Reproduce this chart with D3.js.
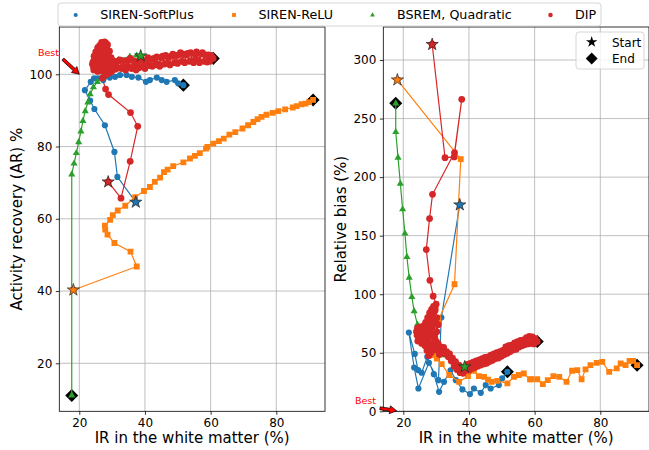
<!DOCTYPE html>
<html>
<head>
<meta charset="utf-8">
<script src="https://cdn.jsdelivr.net/npm/d3@7"></script>
<style type="text/css">
	body { margin: 0; background: #fff; }
	text { font-family: "DejaVu Sans", sans-serif; fill: #000; }
	.axis path { display: none; }
	.axis line { stroke: #000; stroke-width: 0.8; }
	.axis text { font-size: 12px; }
	.grid line { stroke: #b0b0b0; stroke-width: 0.8; }
</style>
</head>
<body>
<script type="text/javascript">
// ---- data ----
var seriesNames = ["SIREN-SoftPlus", "SIREN-ReLU", "BSREM, Quadratic", "DIP"];

var softplusIR = [37.2, 31.6, 30.7, 27.8, 24.6, 23.3, 21.7, 23.5, 24.5, 25.6, 27.3, 29.3, 30.9, 32.4, 34.4, 36.0, 38.0, 40.3, 41.5, 43.6, 45.1, 46.6, 49.1, 50.1, 51.7];
var softplusAR = [64.6, 71.6, 78.5, 85.9, 90.4, 92.7, 95.6, 97.9, 98.9, 98.9, 98.4, 99.1, 99.3, 99.8, 99.8, 99.3, 99.1, 97.9, 98.4, 99.1, 98.4, 97.9, 98.4, 97.5, 97.0];
var softplusBias = [176.3, 80.1, 26.6, 41.4, 19.5, 37.4, 67.3, 49.0, 35.2, 32.9, 46.5, 31.7, 16.6, 25.2, 35.0, 26.6, 18.7, 14.7, 19.5, 15.8, 22.4, 19.5, 22.4, 28.1, 33.7];

var reluIR = [18.2, 37.5, 35.6, 30.7, 28.6, 27.9, 27.8, 29.4, 30.2, 31.7, 34.0, 37.0, 39.7, 41.5, 43.0, 44.6, 45.8, 46.9, 48.6, 51.7, 53.7, 55.2, 56.7, 58.6, 59.0, 60.8, 62.5, 64.0, 65.7, 67.5, 69.7, 71.4, 73.0, 74.3, 75.5, 77.0, 78.9, 80.6, 82.7, 85.0, 86.2, 87.7, 88.9, 90.0, 91.2];
var reluAR = [40.3, 46.8, 50.9, 53.3, 55.6, 57.0, 58.1, 59.7, 61.0, 62.3, 63.6, 66.0, 67.7, 68.8, 70.2, 71.4, 72.9, 73.6, 74.6, 75.6, 76.7, 77.4, 78.2, 79.4, 79.9, 80.8, 81.5, 82.2, 83.3, 84.0, 85.0, 85.9, 86.8, 87.6, 88.2, 88.8, 89.3, 89.8, 90.3, 90.8, 91.2, 91.7, 91.9, 92.3, 92.9];
var reluBias = [283.0, 215.3, 108.5, 77.8, 55.0, 53.0, 51.0, 48.0, 45.0, 40.3, 31.0, 25.2, 30.0, 34.6, 30.0, 29.4, 27.0, 25.2, 26.0, 23.8, 29.4, 31.0, 32.3, 27.2, 27.4, 27.4, 23.2, 26.6, 30.0, 29.4, 25.2, 34.6, 35.2, 27.4, 35.8, 39.4, 41.4, 42.2, 33.7, 36.6, 40.8, 39.4, 43.1, 43.1, 39.4];

var bsremIR = [38.7, 37.5, 35.4, 31.9, 29.3, 26.9, 25.5, 24.3, 23.3, 22.6, 21.8, 21.1, 20.5, 19.8, 19.1, 18.4, 17.7, 17.7];
var bsremAR = [105.1, 105.2, 104.9, 104.0, 102.6, 99.2, 97.9, 96.4, 94.5, 92.2, 89.8, 87.1, 84.2, 81.2, 78.2, 75.3, 72.3, 11.1];
var bsremBias = [38.0, 39.0, 42.0, 48.0, 55.0, 62.0, 68.0, 74.1, 85.5, 97.7, 114.2, 131.8, 151.8, 172.5, 194.4, 216.6, 238.5, 263.0];

var dipIR = [28.8, 32.7, 35.5, 37.8, 35.6, 28.9, 28.0, 27.0, 28.1, 29.1,
	30.0, 29.7, 29.4, 29.0, 28.7, 28.4, 28.1, 27.7, 27.2, 26.7, 26.2, 25.8, 25.4, 25.0, 24.6, 24.2, 24.0, 24.3, 24.8, 25.3,
	25.7, 26.1, 26.5, 26.9, 27.3, 27.7, 28.1, 28.5, 28.9, 29.3, 28.8, 28.3, 27.8, 27.4, 27.0, 26.6, 26.2, 25.8, 25.4, 25.2,
	25.9, 26.6, 27.3, 28.0, 28.7, 29.4, 29.6, 29.9, 29.2, 28.6, 30.0,
	24.5, 25.0, 25.6, 26.2, 26.8, 27.4, 28.0, 28.6, 29.2, 29.7, 30.2, 30.6, 30.2, 29.6, 29.0, 28.4, 27.8, 27.2, 26.6, 26.0,
	25.4, 24.8, 24.4, 25.6, 26.8, 27.9, 29.8, 30.6, 31.0,
	30.5, 31.0, 31.4, 31.9, 32.3, 32.8, 33.2, 33.7, 34.1, 34.6, 35.0, 35.5, 35.9, 36.4, 36.8, 37.3, 37.7, 38.2, 38.6, 39.1,
	39.5, 40.0, 40.4, 40.9, 41.3, 41.8, 42.2, 42.7, 43.1, 43.6, 44.0, 44.5, 44.9, 45.4, 45.8, 46.3, 46.7, 47.2, 47.6, 48.1,
	48.5, 49.0, 49.4, 49.9, 50.3, 50.8, 51.2, 51.7, 52.1, 52.6, 53.0, 53.5, 53.9, 54.4, 54.8, 55.3, 55.7, 56.2, 56.6, 57.1,
	57.5, 58.0, 58.4, 58.9, 59.3, 59.8, 60.2, 60.8];
var dipAR = [70.2, 65.7, 75.9, 85.6, 89.4, 94.4, 95.9, 99.0, 99.8, 100.4,
	101.0, 102.2, 103.6, 104.9, 106.3, 107.6, 108.6, 109.0, 108.3, 107.5, 106.7, 106.0, 105.3, 104.7, 104.1, 103.4, 102.8, 102.1, 101.6, 101.3,
	102.0, 102.7, 103.4, 104.1, 104.8, 105.5, 104.6, 103.8, 102.9, 102.0, 101.2, 100.7, 101.6, 102.5, 103.3, 104.2, 105.0, 104.3, 103.5, 102.6,
	103.0, 102.2, 101.8, 102.6, 103.3, 102.7, 101.5, 102.5, 103.8, 104.6, 103.2,
	105.0, 106.2, 107.4, 108.0, 108.8, 107.2, 106.8, 108.2, 106.4, 104.6, 103.8, 102.8, 101.6, 100.6, 101.0, 101.9, 103.6, 104.0, 105.6, 104.4,
	106.4, 102.8, 101.2, 100.8, 101.0, 102.0, 103.0, 102.2, 103.4,
	102.8, 101.4, 103.6, 101.8, 104.0, 101.6, 103.8, 102.2, 101.2, 103.8, 102.0, 104.4, 101.6, 103.8, 102.2, 101.2, 103.6, 101.8, 104.2, 102.2,
	103.8, 101.6, 103.6, 104.6, 102.4, 104.2, 102.2, 104.4, 102.6, 104.8, 102.8, 102.2, 104.6, 105.0, 102.8, 105.2, 103.0, 104.8, 102.6, 105.0,
	105.6, 103.2, 105.2, 103.0, 105.4, 106.0, 103.6, 105.6, 103.2, 105.4, 105.8, 103.6, 106.0, 103.8, 103.2, 105.4, 106.2, 104.0, 103.2, 105.6,
	106.0, 103.6, 105.4, 103.4, 105.4, 103.6, 105.2, 104.4];
var dipBias = [313.3, 216.6, 217.2, 266.4, 221.0, 185.3, 164.6, 138.1, 111.9, 98.3,
	91.5, 88.0, 85.5, 83.0, 80.5, 78.0, 75.0, 72.5, 70.5, 69.0, 67.5, 66.0, 64.5, 63.0, 61.5, 65.0, 68.0, 71.0, 69.0, 66.0,
	63.0, 60.0, 58.5, 62.0, 66.0, 70.0, 74.0, 78.0, 81.0, 77.0, 72.0, 68.0, 64.0, 60.0, 57.0, 60.5, 64.0, 67.0, 70.0, 67.5,
	63.5, 59.0, 55.5, 53.0, 51.5, 54.0, 66.0, 60.0, 63.0, 58.0, 52.5,
	70.5, 72.0, 69.5, 73.0, 76.0, 80.0, 84.0, 87.0, 89.5, 86.0, 80.0, 74.0, 68.0, 62.0, 56.0, 50.0, 47.5, 52.0, 56.0, 59.0,
	61.5, 64.5, 60.0, 58.0, 62.5, 66.5, 76.0, 58.0, 48.5,
	54.5, 50.5, 55.0, 50.0, 54.5, 49.0, 51.0, 46.5, 49.0, 43.0, 45.5, 38.5, 42.5, 35.5, 39.5, 33.0, 37.0, 32.5, 38.0, 35.0,
	40.0, 35.0, 41.0, 36.5, 42.0, 37.5, 43.0, 38.5, 44.0, 39.5, 45.0, 40.5, 46.0, 41.0, 46.5, 42.5, 48.0, 43.5, 49.0, 45.0,
	50.0, 45.5, 51.0, 47.0, 52.0, 48.5, 55.0, 49.5, 56.0, 51.0, 56.5, 52.5, 58.5, 53.0, 59.5, 55.0, 60.5, 56.0, 61.0, 57.0,
	63.0, 57.5, 64.0, 58.0, 63.5, 57.5, 62.0, 59.6];

var xTicks = [20, 40, 60, 80];
var arTicks = [20, 40, 60, 80, 100];
var biasTicks = [0, 50, 100, 150, 200, 250, 300];

// ---- layout ----
var width = 649;
var height = 450;
var plotTop = 27, plotBottom = 411.3;
var leftPanel = { x0: 59.3, x1: 325 };
var rightPanel = { x0: 383.3, x1: 649 };

var series = [
	{ name: seriesNames[0], color: "#1f77b4", symbol: d3.symbolCircle, size: 30, ir: softplusIR, ar: softplusAR, bias: softplusBias },
	{ name: seriesNames[1], color: "#ff7f0e", symbol: d3.symbolSquare, size: 34, ir: reluIR, ar: reluAR, bias: reluBias },
	{ name: seriesNames[2], color: "#2ca02c", symbol: d3.symbolTriangle, size: 22, ir: bsremIR, ar: bsremAR, bias: bsremBias },
	{ name: seriesNames[3], color: "#d62728", symbol: d3.symbolCircle, size: 36, ir: dipIR, ar: dipAR, bias: dipBias }
];

var svg = d3.select("body")
	.append("svg")
	.attr("width", width)
	.attr("height", height);

svg.append("rect").attr("width", width).attr("height", height).attr("fill", "#fff");

function drawPanel(panel, key, yDomain, yTicks, yLabel, yLabelX, id) {
	var xScale = d3.scaleLinear().domain([13.91, 94.83]).range([panel.x0, panel.x1]);
	var yScale = d3.scaleLinear().domain(yDomain).range([plotBottom, plotTop]);
	var g = svg.append("g");

	svg.append("clipPath").attr("id", id)
		.append("rect")
		.attr("x", panel.x0).attr("y", plotTop)
		.attr("width", panel.x1 - panel.x0).attr("height", plotBottom - plotTop);

	// grid
	var grid = g.append("g").attr("class", "grid");
	grid.selectAll(".gx").data(xTicks).enter().append("line")
		.attr("x1", function(d) { return xScale(d); }).attr("x2", function(d) { return xScale(d); })
		.attr("y1", plotTop).attr("y2", plotBottom);
	grid.selectAll(".gy").data(yTicks).enter().append("line")
		.attr("x1", panel.x0).attr("x2", panel.x1)
		.attr("y1", function(d) { return yScale(d); }).attr("y2", function(d) { return yScale(d); });

	var plot = g.append("g").attr("clip-path", "url(#" + id + ")");

	// end markers sit under the series
	series.forEach(function(s) {
		var n = s.ir.length - 1;
		plot.append("path")
			.attr("d", d3.symbol().type(d3.symbolSquare).size(85)())
			.attr("transform", "translate(" + xScale(s.ir[n]) + "," + yScale(s[key][n]) + ") rotate(45)")
			.attr("fill", "#000");
	});

	series.forEach(function(s) {
		var idx = d3.range(s.ir.length);
		var ln = d3.line()
			.x(function(i) { return xScale(s.ir[i]); })
			.y(function(i) { return yScale(s[key][i]); });
		plot.append("path")
			.attr("d", ln(idx))
			.attr("fill", "none")
			.attr("stroke", s.color)
			.attr("stroke-width", 1.2);
		plot.selectAll(null).data(idx).enter().append("path")
			.attr("d", d3.symbol().type(s.symbol).size(s.size)())
			.attr("transform", function(i) { return "translate(" + xScale(s.ir[i]) + "," + yScale(s[key][i]) + ")"; })
			.attr("fill", s.color);
	});

	// start markers on top
	series.forEach(function(s) {
		plot.append("path")
			.attr("d", d3.symbol().type(d3.symbolStar).size(46)())
			.attr("transform", "translate(" + xScale(s.ir[0]) + "," + yScale(s[key][0]) + ")")
			.attr("fill", s.color)
			.attr("stroke", "#222")
			.attr("stroke-width", 0.7);
	});

	// frame
	g.append("rect")
		.attr("x", panel.x0).attr("y", plotTop)
		.attr("width", panel.x1 - panel.x0).attr("height", plotBottom - plotTop)
		.attr("fill", "none").attr("stroke", "#000").attr("stroke-width", 0.8);

	g.append("g").attr("class", "axis")
		.attr("transform", "translate(0," + plotBottom + ")")
		.call(d3.axisBottom(xScale).tickValues(xTicks).tickSizeInner(3.5).tickSizeOuter(0).tickPadding(3.5));
	g.append("g").attr("class", "axis")
		.attr("transform", "translate(" + panel.x0 + ",0)")
		.call(d3.axisLeft(yScale).tickValues(yTicks).tickSizeInner(3.5).tickSizeOuter(0).tickPadding(3.5));

	g.append("text")
		.attr("x", (panel.x0 + panel.x1) / 2).attr("y", 443)
		.attr("text-anchor", "middle").style("font-size", "15px")
		.text("IR in the white matter (%)");
	g.append("text")
		.attr("transform", "translate(" + yLabelX + "," + ((plotTop + plotBottom) / 2) + ") rotate(-90)")
		.attr("text-anchor", "middle").style("font-size", "15px")
		.text(yLabel);

	return { x: xScale, y: yScale };
}

function bestArrow(sc, tail, tip, textX, textY, anchor) {
	var x0 = sc.x(tail[0]), y0 = sc.y(tail[1]);
	var x1 = sc.x(tip[0]), y1 = sc.y(tip[1]);
	var dx = x1 - x0, dy = y1 - y0, len = Math.sqrt(dx * dx + dy * dy);
	var ux = dx / len, uy = dy / len, px = -uy, py = ux;
	var hl = 7, hw = 4, sw = 1.5;
	var bx = x1 - ux * hl, by = y1 - uy * hl;
	var pts = [
		[x0 + px * sw, y0 + py * sw], [bx + px * sw, by + py * sw], [bx + px * hw, by + py * hw],
		[x1, y1],
		[bx - px * hw, by - py * hw], [bx - px * sw, by - py * sw], [x0 - px * sw, y0 - py * sw]
	];
	svg.append("polygon")
		.attr("points", pts.map(function(p) { return p.join(","); }).join(" "))
		.attr("fill", "red").attr("stroke", "#000").attr("stroke-width", 0.7);
	svg.append("text")
		.attr("x", textX).attr("y", textY)
		.attr("text-anchor", anchor)
		.style("font-size", "9.5px").style("fill", "red")
		.text("Best");
}

var left = drawPanel(leftPanel, "ar", [6.71, 113.09], arTicks, "Activity recovery (AR) %", 22, "clipL");
var right = drawPanel(rightPanel, "bias", [0, 328.2], biasTicks, "Relative bias (%)", 346, "clipR");

bestArrow(left, [15.0, 104.2], [20, 100], 59, 56, "end");
bestArrow(right, [12.9, 2.6], [18, 0.4], 355, 404, "start");

// top legend
var legend = svg.append("g");
legend.append("rect")
	.attr("x", 58).attr("y", 3).attr("width", 543).attr("height", 23).attr("rx", 3)
	.attr("fill", "#fff").attr("fill-opacity", 0.8)
	.attr("stroke", "#ccc").attr("stroke-width", 0.8);
var legendX = [75.7, 234, 372.5, 550.5];
series.forEach(function(s, i) {
	legend.append("path")
		.attr("d", d3.symbol().type(s.symbol).size(s.size * 0.45)())
		.attr("transform", "translate(" + legendX[i] + ",15)")
		.attr("fill", s.color);
	legend.append("text")
		.attr("x", legendX[i] + 24.5).attr("y", 19.3)
		.style("font-size", "12.7px")
		.text(s.name);
});

// start / end legend
var legend2 = svg.append("g");
legend2.append("rect")
	.attr("x", 576).attr("y", 32).attr("width", 68).attr("height", 37).attr("rx", 3)
	.attr("fill", "#fff").attr("fill-opacity", 0.8)
	.attr("stroke", "#ccc").attr("stroke-width", 0.8);
legend2.append("path")
	.attr("d", d3.symbol().type(d3.symbolStar).size(40)())
	.attr("transform", "translate(591.7,42)").attr("fill", "#000");
legend2.append("path")
	.attr("d", d3.symbol().type(d3.symbolSquare).size(70)())
	.attr("transform", "translate(591.7,58.5) rotate(45)").attr("fill", "#000");
legend2.append("text").attr("x", 612).attr("y", 46.5).style("font-size", "12px").text("Start");
legend2.append("text").attr("x", 612).attr("y", 63).style("font-size", "12px").text("End");
</script>
</body>
</html>
